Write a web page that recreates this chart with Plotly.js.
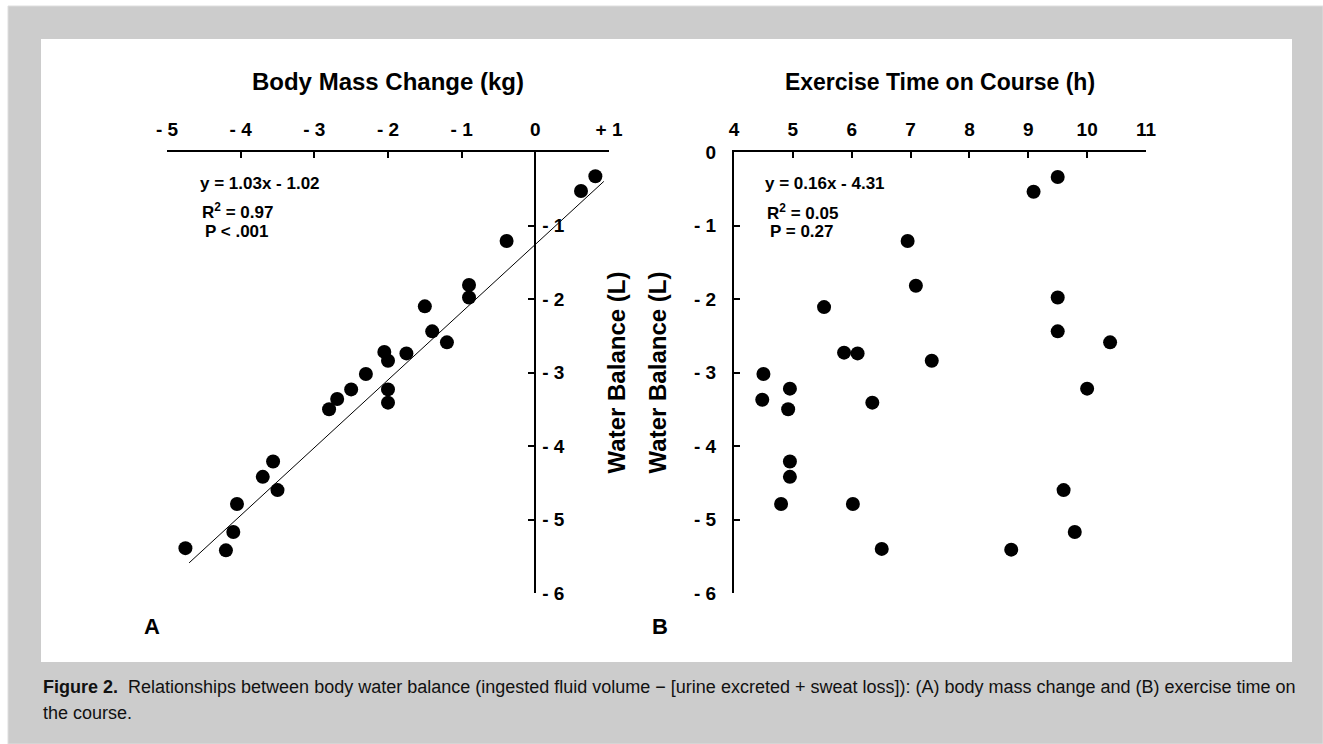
<!DOCTYPE html>
<html>
<head>
<meta charset="utf-8">
<script src="https://cdn.plot.ly/plotly-3.0.1.min.js"></script>
<style>
  html, body { margin: 0; padding: 0; background: #ffffff; }
  #chart { width: 1323px; height: 744px; }
</style>
</head>
<body>
<div id="chart"></div>
<script>
// ---- Panel A: body mass change vs water balance ----
const massChange = [0.815, 0.62, -0.39, -0.90, -0.90, -1.50, -1.40, -1.20, -2.05, -2.00, -1.75, -2.30,
                    -2.50, -2.00, -2.00, -2.69, -2.80, -3.56, -3.70, -3.50, -4.05, -4.10, -4.20, -4.75];
const waterBalanceA = [-0.33, -0.53, -1.21, -1.81, -1.98, -2.10, -2.44, -2.59, -2.72, -2.84, -2.74, -3.02,
                       -3.23, -3.23, -3.41, -3.36, -3.50, -4.21, -4.42, -4.60, -4.79, -5.17, -5.42, -5.39];
const fitLineX = [-4.70, 0.93];
const fitLineY = [-5.59, -0.40];

// ---- Panel B: exercise time vs water balance ----
const exerciseTime = [9.50, 9.09, 6.95, 7.09, 9.50, 5.53, 9.50, 10.39, 5.87, 6.10, 7.36, 4.50,
                      4.95, 10.00, 4.48, 6.35, 4.92, 4.95, 4.95, 4.80, 6.02, 9.60, 9.79, 6.51, 8.71];
const waterBalanceB = [-0.34, -0.54, -1.21, -1.82, -1.98, -2.11, -2.44, -2.59, -2.73, -2.74, -2.84, -3.02,
                       -3.22, -3.22, -3.37, -3.41, -3.50, -4.21, -4.42, -4.79, -4.79, -4.60, -5.17, -5.40, -5.41];

// ---- Tick labels ----
const xTickValsA = [-5, -4, -3, -2, -1, 0, 1];
const xTickTextA = ["- 5", "- 4", "- 3", "- 2", "- 1", "0", "+ 1"];
const yTickValsA = [-1, -2, -3, -4, -5, -6];
const yTickTextA = ["- 1", "- 2", "- 3", "- 4", "- 5", "- 6"];
const xTickValsB = [4, 5, 6, 7, 8, 9, 10, 11];
const xTickTextB = ["4", "5", "6", "7", "8", "9", "10", "11"];
const yTickValsB = [0, -1, -2, -3, -4, -5, -6];
const yTickTextB = ["0", "- 1", "- 2", "- 3", "- 4", "- 5", "- 6"];

const xRangeA = [-5, 1];
const xRangeB = [4, 11];
const yRange = [-6, 0];

// ---- Geometry helpers (pixel -> paper) ----
const W = 1323, H = 744;
const px = v => v / W;
const py = v => 1 - v / H;

const FONT = "Arial, 'Liberation Sans', Helvetica, sans-serif";
const tickFont = { family: FONT, size: 19, color: "#000", weight: "bold" };

const domXA = [px(167), px(609)];
const domXB = [px(734), px(1146)];
const domY = [py(593), py(152)];
// y-axis of panel A sits at body mass change = 0
const yAxisPosA = domXA[0] + (0 - xRangeA[0]) / (xRangeA[1] - xRangeA[0]) * (domXA[1] - domXA[0]);

const marker = { color: "#000", size: 14, symbol: "circle", line: { width: 0 } };

const traces = [
  { x: massChange, y: waterBalanceA, xaxis: "x", yaxis: "y", type: "scatter", mode: "markers",
    marker: marker, cliponaxis: false, hoverinfo: "x+y" },
  { x: fitLineX, y: fitLineY, xaxis: "x", yaxis: "y", type: "scatter", mode: "lines",
    line: { color: "#000", width: 1 }, hoverinfo: "skip" },
  { x: exerciseTime, y: waterBalanceB, xaxis: "x2", yaxis: "y2", type: "scatter", mode: "markers",
    marker: marker, cliponaxis: false, hoverinfo: "x+y" }
];

const titleFont = { family: FONT, size: 24, color: "#000", weight: "bold" };
const titleFontB = { family: FONT, size: 23, color: "#000", weight: "bold" };
const captionFont = { family: FONT, size: 18, color: "#111" };

const axisCommon = {
  showgrid: false, zeroline: false, showline: true, linecolor: "#000", linewidth: 2,
  ticks: "inside", ticklen: 6, tickwidth: 2, tickcolor: "#000", tickfont: tickFont,
  tickmode: "array", fixedrange: true, automargin: false
};

function ann(text, x, y, opts) {
  return Object.assign({
    text: text, x: px(x), y: py(y), xref: "paper", yref: "paper",
    showarrow: false, xanchor: "left", yanchor: "middle",
    font: { family: FONT, size: 17, color: "#000", weight: "bold" }
  }, opts || {});
}

const layout = {
  width: W, height: H,
  margin: { l: 0, r: 0, t: 0, b: 0, pad: 0 },
  paper_bgcolor: "#ffffff", plot_bgcolor: "rgba(0,0,0,0)",
  showlegend: false,
  xaxis: Object.assign({}, axisCommon, { domain: domXA, range: xRangeA, side: "top", anchor: "y",
    tickvals: xTickValsA, ticktext: xTickTextA, ticklabelstandoff: 6,
    title: { text: "Body Mass Change (kg)", font: titleFont, standoff: 22 } }),
  yaxis: Object.assign({}, axisCommon, { domain: domY, range: yRange, side: "right", anchor: "free",
    position: yAxisPosA, tickvals: yTickValsA, ticktext: yTickTextA, ticklabelstandoff: 2,
    title: { text: "Water Balance (L)", font: titleFont, standoff: 43 } }),
  xaxis2: Object.assign({}, axisCommon, { domain: domXB, range: xRangeB, side: "top", anchor: "y2",
    tickvals: xTickValsB, ticktext: xTickTextB, ticklabelstandoff: 6,
    title: { text: "Exercise Time on Course (h)", font: titleFontB, standoff: 22 } }),
  yaxis2: Object.assign({}, axisCommon, { domain: domY, range: yRange, side: "left", anchor: "x2",
    tickvals: yTickValsB, ticktext: yTickTextB, ticklabelstandoff: 12,
    title: { text: "Water Balance (L)", font: titleFont, standoff: 21 } }),
  shapes: [
    { type: "rect", xref: "paper", yref: "paper", x0: px(8), x1: 1, y0: 0, y1: py(6),
      fillcolor: "#cccccc", line: { color: "#dedede", width: 1 }, layer: "below" },
    { type: "rect", xref: "paper", yref: "paper", x0: px(41), x1: px(1292), y0: py(662), y1: py(39),
      fillcolor: "#ffffff", line: { width: 0 }, layer: "below" }
  ],
  annotations: [
    ann("y = 1.03x - 1.02", 198, 183),
    ann("R<sup>2</sup> = 0.97", 200, 211),
    ann("P < .001", 203, 231),
    ann("y = 0.16x - 4.31", 763, 183),
    ann("R<sup>2</sup> = 0.05", 765, 212),
    ann("P = 0.27", 768, 232),
    ann("A", 152, 626, { xanchor: "center", font: { family: FONT, size: 22, color: "#000", weight: "bold" } }),
    ann("B", 660, 626, { xanchor: "center", font: { family: FONT, size: 22, color: "#000", weight: "bold" } }),
    ann("<b>Figure 2.</b>\u00a0 Relationships between body water balance (ingested fluid volume \u2212 [urine excreted + sweat loss]): (A) body mass change and (B) exercise time on",
        41, 687, { font: captionFont }),
    ann("the course.", 41, 713, { font: captionFont })
  ]
};

Plotly.newPlot("chart", traces, layout, { displayModeBar: false, staticPlot: true });
</script>
</body>
</html>
